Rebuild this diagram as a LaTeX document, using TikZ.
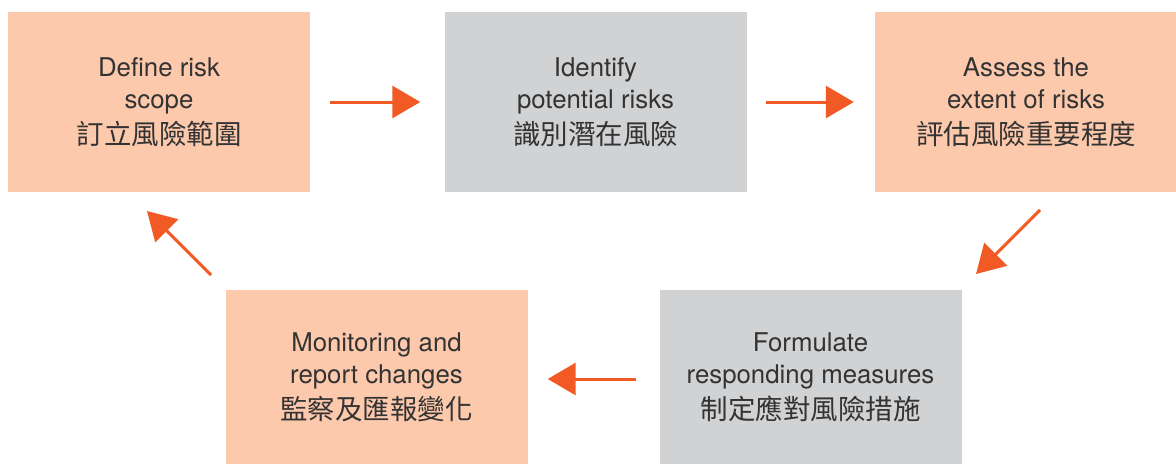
\documentclass[tikz,border=0pt]{standalone}
\usepackage{fontspec}
\setmainfont{TeX Gyre Heros}
\newfontfamily\cjk{Noto Sans CJK TC}
\usetikzlibrary{arrows.meta}

\definecolor{peach}{HTML}{FDC9AC}
\definecolor{stepgray}{HTML}{D1D2D4}
\definecolor{arroworange}{HTML}{F15A24}
\definecolor{textgray}{HTML}{333333}

\newcommand{\zh}[1]{{\cjk\fontsize{27.5}{33}\selectfont #1}}

\tikzset{
    stepbox/.style={minimum width=302pt, minimum height=180pt, inner sep=0pt,
        align=center, text=textgray, font=\fontsize{25.8}{32.5}\selectfont},
    peachbox/.style={stepbox, fill=peach},
    graybox/.style={stepbox, fill=stepgray},
    flow/.style={draw=arroworange, line width=3pt,
        -{Triangle[length=28pt,width=32pt]}},
}

\begin{document}
\begin{tikzpicture}[x=1pt, y=-1pt]
            \useasboundingbox (0,0) rectangle (1176,464);

            \node[peachbox] (scope) at (159, 102) {Define risk\\scope\\[3pt]\zh{訂立風險範圍}};
            \node[graybox] (identify) at (595.5, 102) {Identify\\potential risks\\[3pt]\zh{識別潛在風險}};
            \node[peachbox] (assess) at (1026, 102) {Assess the\\extent of risks\\[3pt]\zh{評估風險重要程度}};
            \node[graybox, minimum height=174pt] (formulate) at (810.5, 377) {Formulate\\responding measures\\[3pt]\zh{制定應對風險措施}};
            \node[peachbox, minimum height=174pt] (monitor) at (376.5, 377) {Monitoring and\\report changes\\[3pt]\zh{監察及匯報變化}};

            \coordinate (A) at (1040, 210);
            \coordinate (B) at (976, 274);
            \coordinate (C) at (211, 275);
            \coordinate (D) at (147, 211);

            \draw[flow, shorten <=20pt, shorten >=24pt] (scope.east) -- (identify.west);
            \draw[flow, shorten <=19pt, shorten >=21pt] (identify.east) -- (assess.west);
            \draw[flow] (A) -- (B);
            \draw[flow, shorten <=23pt, shorten >=20pt] (formulate.west |- 0,379) -- (monitor.east |- 0,379);
            \draw[flow] (C) -- (D);
        \end{tikzpicture}
\end{document}
